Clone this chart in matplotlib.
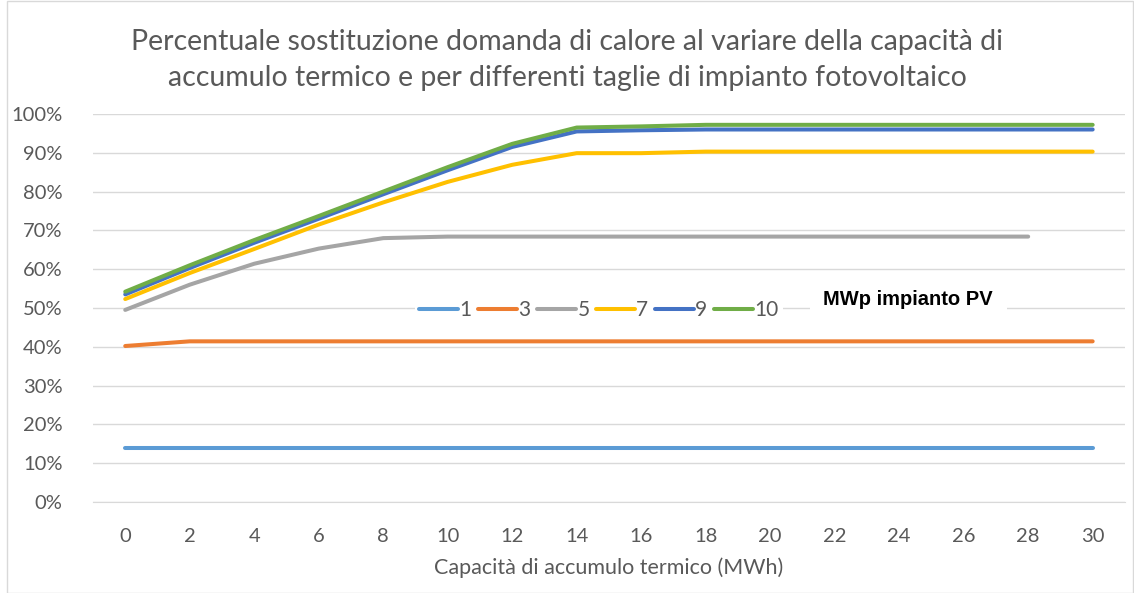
import numpy as np
import matplotlib.pyplot as plt
from matplotlib.patches import Rectangle

# capacità di accumulo termico (MWh)
capacity = [0, 2, 4, 6, 8, 10, 12, 14, 16, 18, 20, 22, 24, 26, 28, 30]

# percentuale sostituzione per taglia impianto PV (MWp)
pv_1 = [0.14] * 16
pv_3 = [0.402, 0.414, 0.414, 0.414, 0.414, 0.414, 0.414, 0.414, 0.414, 0.414, 0.414, 0.414, 0.414, 0.414, 0.414, 0.414]
pv_5 = [0.495, 0.56, 0.614, 0.653, 0.68, 0.684, 0.684, 0.684, 0.684, 0.684, 0.684, 0.684, 0.684, 0.684, 0.684]
pv_7 = [0.523, 0.59, 0.652, 0.715, 0.772, 0.825, 0.869, 0.899, 0.899, 0.903, 0.903, 0.903, 0.903, 0.903, 0.903, 0.903]
pv_9 = [0.535, 0.603, 0.668, 0.73, 0.793, 0.855, 0.915, 0.955, 0.958, 0.96, 0.96, 0.96, 0.96, 0.96, 0.96, 0.96]
pv_10 = [0.542, 0.61, 0.675, 0.737, 0.8, 0.863, 0.923, 0.965, 0.968, 0.972, 0.972, 0.972, 0.972, 0.972, 0.972, 0.972]

series = [("1", pv_1, "#5B9BD5"), ("3", pv_3, "#ED7D31"), ("5", pv_5, "#A5A5A5"),
          ("7", pv_7, "#FFC000"), ("9", pv_9, "#4472C4"), ("10", pv_10, "#70AD47")]

plt.rcParams['font.family'] = ['Lato', 'DejaVu Sans']
text_col = "#595959"

fig = plt.figure(figsize=(11.34, 5.93), dpi=100)
ax = fig.add_axes([0.082, 0.1535, 0.910, 0.6543])

for name, vals, col in series:
    ax.plot(capacity[:len(vals)], vals, color=col, lw=2.9, label=name,
            solid_capstyle='round', solid_joinstyle='round')

ax.set_xlim(-1, 31)
ax.set_ylim(0, 1)
ax.set_xticks(capacity)
ax.set_yticks(np.arange(0, 1.01, 0.1))
ax.set_yticklabels([f"{int(round(v * 100))}%" for v in np.arange(0, 1.01, 0.1)])
ax.grid(axis='y', color="#D9D9D9", lw=1)
ax.set_axisbelow(True)
for s in ['top', 'right', 'left']:
    ax.spines[s].set_visible(False)
ax.spines['bottom'].set_color("#D9D9D9")
ax.tick_params(axis='both', length=0, colors=text_col, labelsize=14.5)
ax.tick_params(axis='y', pad=22)
ax.tick_params(axis='x', pad=19)
ax.set_xlabel("Capacità di accumulo termico (MWh)", color=text_col, fontsize=15.5, labelpad=9)

leg = ax.legend(loc='center', bbox_to_anchor=(0.49, 0.495), ncol=6, frameon=True,
                fontsize=15, handlelength=1.9, handletextpad=0.05, columnspacing=0.3,
                borderpad=0.2, labelcolor=text_col)
leg.get_frame().set_facecolor('white')
leg.get_frame().set_edgecolor('none')
leg.get_frame().set_alpha(1)

ax.text(0.79, 0.522, "MWp impianto PV", transform=ax.transAxes, ha='center', va='center',
        fontsize=14.5, fontweight='bold', family='Liberation Sans', color='black',
        bbox=dict(facecolor='white', edgecolor='none', pad=10))

fig.text(0.5, 0.899, "Percentuale sostituzione domanda di calore al variare della capacità di\n"
         "accumulo termico e per differenti taglie di impianto fotovoltaico",
         ha='center', va='center', fontsize=20.5, color=text_col, linespacing=1.45)

fig.patches.append(Rectangle((0.006, 0.0), 0.993, 0.999, transform=fig.transFigure,
                             fill=False, edgecolor="#D9D9D9", lw=1))

fig.savefig("out.png", dpi=100)
